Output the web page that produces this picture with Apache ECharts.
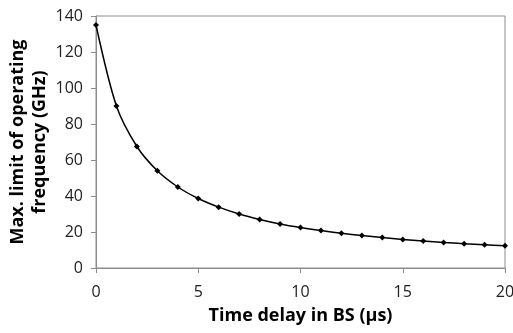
<!DOCTYPE html>
<html>
<head>
<meta charset="utf-8">
<script src="https://cdn.jsdelivr.net/npm/echarts@6/dist/echarts.min.js"></script>
<style>
  html, body { margin: 0; padding: 0; background: #fff; }
  #chart { width: 513px; height: 333px; }
</style>
</head>
<body>
<div id="chart"></div>
<script>
// values
const delays = [0, 1, 2, 3, 4, 5, 6, 7, 8, 9, 10, 11, 12, 13, 14, 15, 16, 17, 18, 19, 20];
const maxFreq = [135, 90, 67.5, 54, 45, 38.6, 33.8, 30, 27, 24.5, 22.5, 20.8, 19.3, 18, 16.9, 15.9, 15, 14.2, 13.5, 12.9, 12.3];

const xTitle = "Time delay in BS (µs)";
const yTitle = "Max. limit of operating\nfrequency (GHz)";

const chart = echarts.init(document.getElementById("chart"));

const axisFont = "'Open Sans', 'Noto Sans', sans-serif";

chart.setOption({
  animation: false,
  grid: {
    left: 96, right: 8, top: 16, bottom: 65,
    outerBoundsMode: "none",
    containLabel: false,
    show: true, borderColor: "#8c8c8c", borderWidth: 1
  },
  xAxis: {
    type: "value",
    min: 0,
    max: 20,
    interval: 5,
    name: xTitle,
    nameLocation: "middle",
    nameGap: 39,
    nameMoveOverlap: false,
    nameTextStyle: { fontFamily: axisFont, fontWeight: "bold", fontSize: 18, color: "#000" },
    axisLine: { show: true, lineStyle: { color: "#8c8c8c" } },
    axisTick: { show: true, length: 5, lineStyle: { color: "#8c8c8c" } },
    axisLabel: { fontFamily: axisFont, fontSize: 16, color: "#222", margin: 16 },
    splitLine: { show: false }
  },
  yAxis: {
    type: "value",
    min: 0,
    max: 140,
    interval: 20,
    name: yTitle,
    nameLocation: "middle",
    nameGap: 45,
    nameMoveOverlap: false,
    nameTextStyle: { fontFamily: axisFont, fontWeight: "bold", fontSize: 18, color: "#000", lineHeight: 22 },
    axisLine: { show: true, lineStyle: { color: "#8c8c8c" } },
    axisTick: { show: true, length: 5, lineStyle: { color: "#8c8c8c" } },
    axisLabel: { fontFamily: axisFont, fontSize: 16, color: "#222", margin: 13 },
    splitLine: { show: false }
  },
  series: [
    {
      type: "line",
      data: delays.map((d, i) => [d, maxFreq[i]]),
      smooth: 0.3,
      symbol: "diamond",
      symbolSize: 6,
      lineStyle: { color: "#000", width: 1.5 },
      itemStyle: { color: "#000" }
    }
  ]
});
</script>
</body>
</html>
